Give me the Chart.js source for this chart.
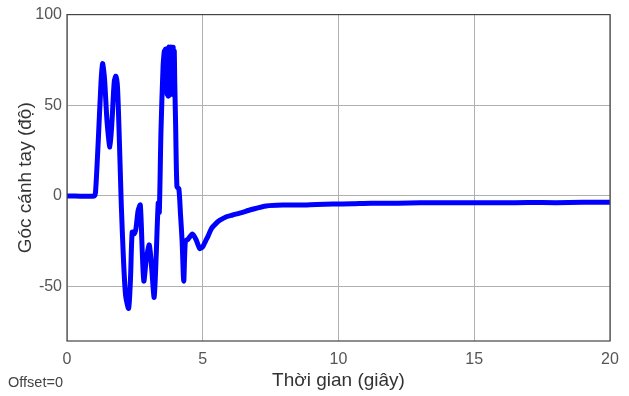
<!DOCTYPE html>
<html>
<head>
<meta charset="utf-8">
<script src="https://cdn.jsdelivr.net/npm/chart.js@4.4.0/dist/chart.umd.min.js"></script>
<style>
  html, body { margin: 0; padding: 0; background: #fff; }
  #wrap { width: 629px; height: 396px; }
</style>
</head>
<body>
<div id="wrap"><canvas id="angleChart"></canvas></div>
<script>
// time (s) and arm angle (deg)
var timeSec = [0, 1.0, 1.05, 1.15, 1.25, 1.31, 1.38, 1.48, 1.58, 1.66, 1.74, 1.80, 1.86, 1.93, 2.0,
    2.08, 2.16, 2.27, 2.34, 2.40, 2.47, 2.54, 2.62, 2.70, 2.77, 2.83, 2.92, 3.03, 3.12, 3.21, 3.28,
    3.36, 3.40, 3.46, 3.54, 3.59, 3.61, 3.63, 3.65, 3.67, 3.69, 3.71, 3.73, 3.75, 3.77, 3.79, 3.81,
    3.83, 3.85, 3.87, 3.89, 3.91, 3.93, 3.95, 3.97,
    4.00, 4.05, 4.12, 4.18, 4.24, 4.30, 4.36, 4.45, 4.62, 4.75, 4.89, 5.0, 5.1, 5.2, 5.32,
    5.5, 5.62, 5.87, 6.1, 6.36, 6.8, 7.34, 8.0, 8.57, 9.2, 9.8, 10.5, 11.2, 12.2, 13, 14, 15, 16,
    17, 18, 19, 20];
var angleDeg = [0, 0, 2, 30, 62, 73, 65, 40, 27, 42, 63, 66, 60, 30, -5,
    -35, -55, -62, -45, -20, -21, -18, -8, -5, -30, -47, -35, -27, -40, -56, -35,
    -4, -9, 35, 72, 80, 62, 81, 58, 80, 56, 81, 55, 82, 57, 81, 56,
    82, 58, 81, 56, 82, 60, 80, 62,
    40, 5, 4, -10, -25, -47, -25, -24, -21, -24, -29, -28, -25, -22, -18,
    -15, -13.5, -11.5, -10.5, -9.5, -7.5, -5.5, -5, -5, -4.7, -4.5, -4.3, -4, -4, -3.8, -3.8, -3.7, -3.8,
    -3.6, -3.7, -3.5, -3.5];
var xTicks = [0, 5, 10, 15, 20];
var yTicks = [-50, 0, 50, 100];

var points = [];
for (var i = 0; i < timeSec.length; i++) {
    points.push({x: timeSec[i], y: angleDeg[i]});
}

var fontFam = '"Liberation Sans", Arial, sans-serif';
var axisColor = '#555';
var gridColor = '#b0b0b0';

// box round the plot + footer text
var frame = {
    id: 'frame',
    afterDatasetsDraw: function (chart) {
        var a = chart.chartArea, c = chart.ctx;
        c.save();
        c.strokeStyle = '#444';
        c.lineWidth = 1.2;
        c.strokeRect(a.left, a.top, a.right - a.left, a.bottom - a.top);
        c.fillStyle = '#444';
        c.font = '14.5px ' + fontFam;
        c.textBaseline = 'middle';
        c.fillText('Offset=0', 8, 383);
        c.restore();
    }
};

new Chart(document.getElementById('angleChart'), {
    type: 'line',
    data: {
        datasets: [{
            data: points,
            borderColor: '#0000ff',
            borderWidth: 5,
            pointRadius: 0,
            tension: 0.25,
            fill: false
        }]
    },
    options: {
        responsive: true,
        maintainAspectRatio: false,
        animation: false,
        layout: {padding: {left: 0, right: 19, top: 14, bottom: 0}},
        plugins: {legend: {display: false}, tooltip: {enabled: false}},
        scales: {
            x: {
                type: 'linear',
                min: 0, max: 20,
                afterBuildTicks: function (axis) { axis.ticks = xTicks.map(function (v) { return {value: v}; }); },
                afterFit: function (axis) { axis.height = 55; },
                grid: {color: gridColor, drawTicks: false},
                border: {display: false},
                ticks: {color: axisColor, padding: 9, font: {size: 16, family: fontFam}},
                title: {display: true, text: 'Thời gian (giây)', color: '#333', padding: {top: 4},
                    font: {size: 19, family: fontFam}}
            },
            y: {
                min: -80, max: 100,
                afterBuildTicks: function (axis) { axis.ticks = yTicks.map(function (v) { return {value: v}; }); },
                afterFit: function (axis) { axis.width = 67; },
                grid: {color: gridColor, drawTicks: false},
                border: {display: false},
                ticks: {color: axisColor, padding: 5, font: {size: 16, family: fontFam}},
                title: {display: true, text: 'Góc cánh tay (độ)', color: '#333', padding: {top: 14},
                    font: {size: 19, family: fontFam}}
            }
        }
    },
    plugins: [frame]
});
</script>
</body>
</html>
